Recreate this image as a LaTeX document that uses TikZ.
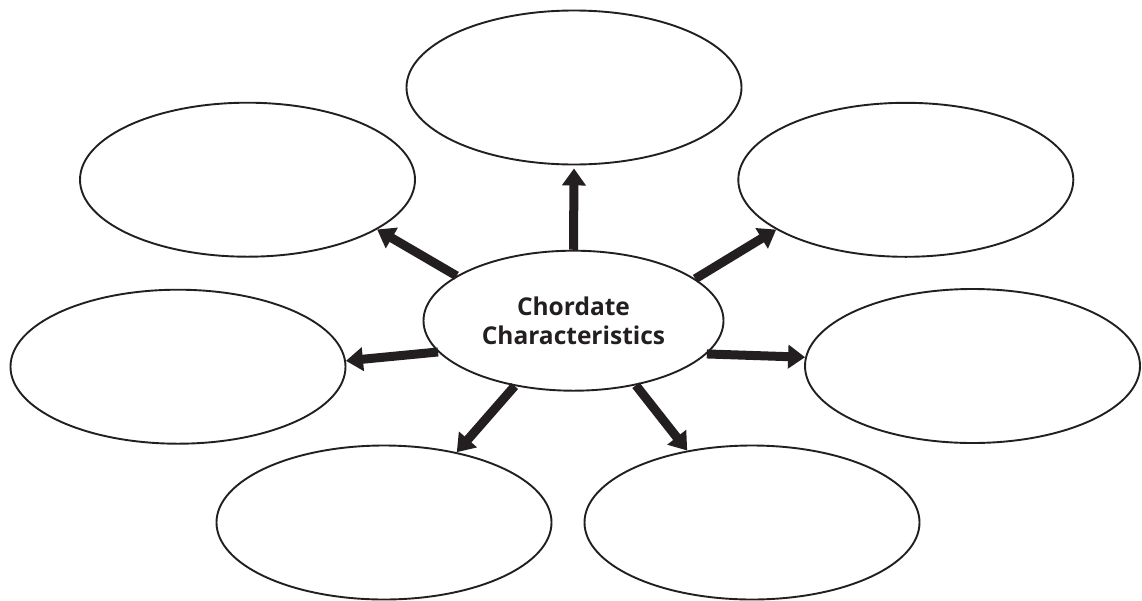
\documentclass[tikz,border=0pt]{standalone}
\usepackage{fontspec}
\setmainfont{Open Sans}
\usetikzlibrary{shapes.geometric,arrows.meta}
\definecolor{ink}{HTML}{231F20}
\begin{document}
\begin{tikzpicture}[x=1pt,y=-1pt,
  bubble/.style={ellipse,draw=ink,line width=1.9pt,fill=white,minimum width=335pt,minimum height=154pt,inner sep=0pt},
  hub/.style={ellipse,draw=ink,line width=1.9pt,fill=white,minimum width=300pt,minimum height=140pt,inner sep=0pt,
    align=center,text=ink,font=\fontsize{24.5}{28.5}\selectfont\bfseries},
  link/.style={draw=ink,line width=9pt,-{Triangle[length=17pt,width=23pt]}}]
\fill[white] (0,0) rectangle (1142,600);
\useasboundingbox (0,0) rectangle (1142,600);
\node[hub] (c) at (573.5,320.7) {Chordate\\Characteristics};
\node[bubble] (t)  at (574,87.5) {};
\node[bubble] (tl) at (247.5,179.7) {};
\node[bubble] (tr) at (905.8,179.8) {};
\node[bubble] (l)  at (178,366.7) {};
\node[bubble] (r)  at (972.5,366) {};
\node[bubble] (bl) at (384,522.5) {};
\node[bubble] (br) at (752,522.5) {};
\draw[link] (c.90) -- ([yshift=-3pt]t.270);
\draw[link] (c.159) -- (tl.339);
\draw[link] (c.19) -- (tr.201);
\draw[link] (c.193) -- (l.2.3);
\draw[link] (c.346.2) -- (r.177.9);
\draw[link] (c.228.3) -- (bl.44.8);
\draw[link] (c.314.7) -- (br.132.9);
\end{tikzpicture}
\end{document}
